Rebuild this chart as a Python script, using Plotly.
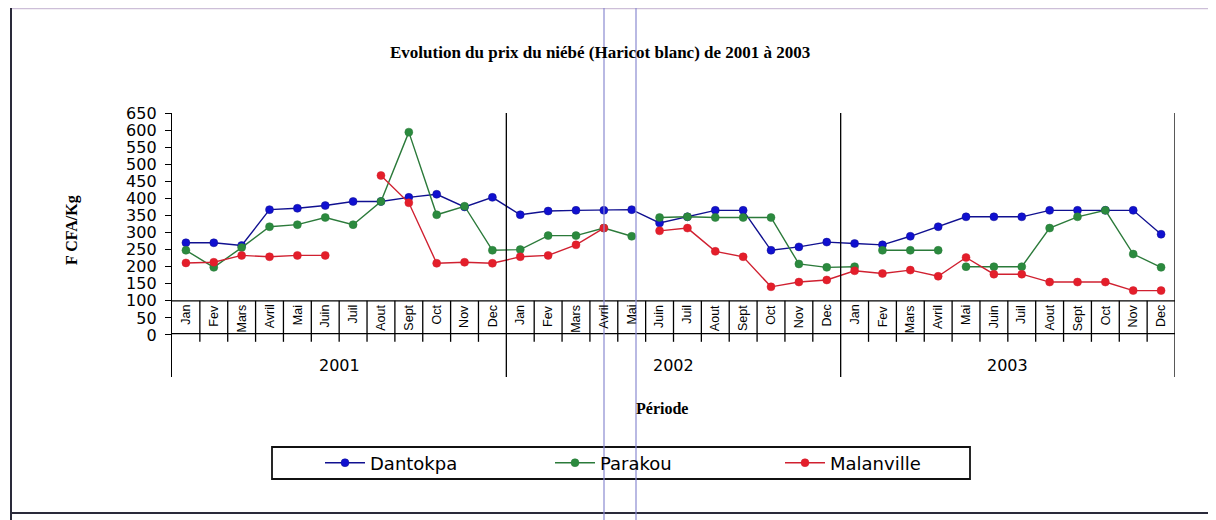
import plotly.graph_objects as go

# ---------------- data ----------------
years = ["2001", "2002", "2003"]
months = ["Jan", "Fev", "Mars", "Avril", "Mai", "Juin", "Juil", "Aout", "Sept", "Oct", "Nov", "Dec"]

dantokpa = [270, 270, 262, 367, 371, 379, 391, 391, 403, 412, 375, 403,
            352, 363, 365, 365, 367, 328, 346, 365, 365, 248, 258, 272,
            268, 264, 289, 317, 346, 346, 346, 365, 365, 365, 365, 295]
parakou = [248, 198, 256, 317, 323, 344, 323, 391, 594, 352, 377, 248,
           250, 291, 291, 313, 289, 344, 346, 344, 344, 344, 208, 198,
           200, 248, 248, 248, 200, 200, 200, 313, 346, 365, 237, 198]
malanville = [211, 213, 233, 229, 233, 233, None, 467, 387, 210, 213, 210,
              229, 233, 264, 313, None, 305, 313, 245, 229, 141, 155, 161,
              188, 180, 190, 172, 227, 178, 178, 155, 155, 155, 130, 130]
parakou_breaks = [17, 25, 28]  # index where a new line segment starts

title_text = "Evolution du prix du niébé (Haricot blanc) de 2001 à 2003"
y_title = "F CFA/Kg"
x_title = "Période"
y_ticks = list(range(0, 651, 50))

# ---------------- geometry (page pixels; body has an 8px margin) ----------------
OFF = 8
W, H = 1208, 512
PL, PR, PT, PB = 172, 1175, 113, 377          # plot area in page pixels
L, R, T, B = PL - OFF, PR - OFF, PT - OFF, PB - OFF
YMIN, YMAX = -123, 650


def px(x):  # page x pixel -> paper
    return (x - OFF - L) / (R - L)


def py(y):  # page y pixel -> paper
    return (B - (y - OFF)) / (B - T)


n = len(dantokpa)
xs = [i + 0.5 for i in range(n)]

BLUE, GREEN, RED = "#1010d0", "#2b8a3e", "#e41e2a"
BLUE_L, GREEN_L, RED_L = "#101090", "#2b7a3a", "#d02030"

fig = go.Figure()


def add_series(name, vals, col, lcol, symbol, segments):
    first = True
    for (a, b) in segments:
        fig.add_trace(go.Scatter(
            x=xs[a:b], y=vals[a:b], name=name, mode="lines+markers",
            legendgroup=name, showlegend=first,
            line=dict(color=lcol, width=1.4),
            marker=dict(color=col, size=8, symbol=symbol,
                        line=dict(color=lcol, width=0.5)),
            connectgaps=False, cliponaxis=False,
        ))
        first = False


add_series("Dantokpa", dantokpa, BLUE, BLUE_L, "circle", [(0, n)])
bounds = [0] + parakou_breaks + [n]
add_series("Parakou", parakou, GREEN, GREEN_L, "circle",
           [(bounds[i], bounds[i + 1]) for i in range(len(bounds) - 1)])
add_series("Malanville", malanville, RED, RED_L, "circle", [(0, n)])

shapes = []
blk = dict(color="black", width=1.3)
# category band lines
shapes.append(dict(type="line", xref="x", yref="y", x0=0, x1=n, y0=100, y1=100, line=blk))
shapes.append(dict(type="line", xref="x", yref="y", x0=0, x1=n, y0=4, y1=4, line=blk))
for i in range(1, n):
    if i % 12 == 0:
        continue
    shapes.append(dict(type="line", xref="x", yref="y", x0=i, x1=i, y0=100, y1=-20, line=blk))
# year separators
for i in range(12, n + 1, 12):
    shapes.append(dict(type="line", xref="x", yref="y", x0=i, x1=i, y0=YMAX, y1=YMIN, line=blk))

# legend box
shapes.append(dict(type="rect", xref="paper", yref="paper", x0=px(272), x1=px(970), y0=py(447), y1=py(479),
                   line=dict(color="#111111", width=1.8), fillcolor="rgba(0,0,0,0)", layer="below"))

# page frame lines
shapes.append(dict(type="line", xref="paper", yref="paper", x0=px(10), x1=px(1216), y0=py(8.6), y1=py(8.6),
                   line=dict(color="#cdbfd8", width=1.5)))
shapes.append(dict(type="line", xref="paper", yref="paper", x0=px(11), x1=px(11), y0=py(8), y1=py(520),
                   line=dict(color="#2a2a3a", width=2)))
shapes.append(dict(type="line", xref="paper", yref="paper", x0=px(10), x1=px(1216), y0=py(513), y1=py(513),
                   line=dict(color="#2a2a3a", width=2)))
for xv in (604, 636):
    shapes.append(dict(type="line", xref="paper", yref="paper", x0=px(xv), x1=px(xv), y0=py(8), y1=py(520),
                       line=dict(color="#8a8ad0", width=1.2), layer="above"))

annotations = []
for i in range(n):
    annotations.append(dict(x=xs[i], y=100, xref="x", yref="y", text=months[i % 12],
                            textangle=-90, showarrow=False, yanchor="top", xanchor="center",
                            yshift=-2, font=dict(family="Arial, Liberation Sans", size=12.5, color="black")))
for k, yr in enumerate(years):
    annotations.append(dict(x=12 * k + 6, y=-88, xref="x", yref="y", text=yr, showarrow=False,
                            xanchor="center", yanchor="middle",
                            font=dict(family="DejaVu Sans", size=16, color="black")))
annotations.append(dict(x=px(600), y=py(52), xref="paper", yref="paper", text="<b>" + title_text + "</b>",
                        xanchor="center", yanchor="middle",
                        showarrow=False, font=dict(family="Liberation Serif", size=17, color="black")))
annotations.append(dict(x=px(72), y=py(230), xref="paper", yref="paper", text="<b>" + y_title + "</b>",
                        textangle=-90, showarrow=False, xanchor="center", yanchor="middle",
                        font=dict(family="Liberation Serif", size=16, color="black")))
annotations.append(dict(x=px(662), y=py(408), xref="paper", yref="paper", text="<b>" + x_title + "</b>",
                        xanchor="center", yanchor="middle",
                        showarrow=False, font=dict(family="Liberation Serif", size=16, color="black")))

fig.update_layout(
    width=W, height=H,
    margin=dict(l=L, r=W - R, t=T, b=H - B, autoexpand=False),
    paper_bgcolor="white", plot_bgcolor="white",
    showlegend=True,
    legend=dict(orientation="h", x=px(320), y=py(463), xanchor="left", yanchor="middle",
                borderwidth=0, bgcolor="rgba(0,0,0,0)",
                font=dict(family="DejaVu Sans", size=18, color="black"),
                entrywidth=175, itemwidth=40, tracegroupgap=0),
    xaxis=dict(range=[0, n], visible=False, fixedrange=True),
    yaxis=dict(range=[YMIN, YMAX], tickvals=y_ticks, showgrid=False, zeroline=False,
               showline=True, linecolor="black", linewidth=1.3, ticks="outside", ticklen=6,
               tickcolor="black", ticklabelstandoff=5,
               tickfont=dict(family="DejaVu Sans", size=16, color="black")),
    shapes=shapes, annotations=annotations,
)

fig.write_html("out.html")
